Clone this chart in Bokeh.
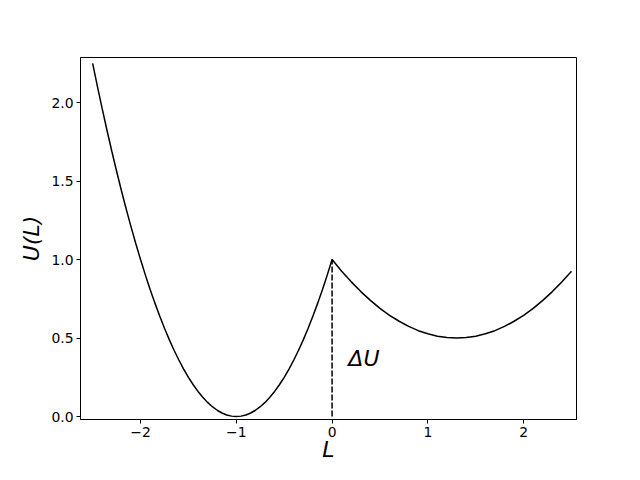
from bokeh.plotting import figure
from bokeh.models import FixedTicker, Label, Range1d
from bokeh.embed import file_html
from bokeh.resources import INLINE

# ---- data ----
L_left = [-2.50, -2.45, -2.40, -2.35, -2.30, -2.25, -2.20, -2.15, -2.10, -2.05,
          -2.00, -1.95, -1.90, -1.85, -1.80, -1.75, -1.70, -1.65, -1.60, -1.55,
          -1.50, -1.45, -1.40, -1.35, -1.30, -1.25, -1.20, -1.15, -1.10, -1.05,
          -1.00, -0.95, -0.90, -0.85, -0.80, -0.75, -0.70, -0.65, -0.60, -0.55,
          -0.50, -0.45, -0.40, -0.35, -0.30, -0.25, -0.20, -0.15, -0.10, -0.05, 0.00]
U_left = [2.2500, 2.1025, 1.9600, 1.8225, 1.6900, 1.5625, 1.4400, 1.3225, 1.2100, 1.1025,
          1.0000, 0.9025, 0.8100, 0.7225, 0.6400, 0.5625, 0.4900, 0.4225, 0.3600, 0.3025,
          0.2500, 0.2025, 0.1600, 0.1225, 0.0900, 0.0625, 0.0400, 0.0225, 0.0100, 0.0025,
          0.0000, 0.0025, 0.0100, 0.0225, 0.0400, 0.0625, 0.0900, 0.1225, 0.1600, 0.2025,
          0.2500, 0.3025, 0.3600, 0.4225, 0.4900, 0.5625, 0.6400, 0.7225, 0.8100, 0.9025, 1.0000]

L_right = [0.0, 0.1, 0.2, 0.3, 0.4, 0.5, 0.6, 0.7, 0.8, 0.9, 1.0, 1.1, 1.2, 1.3,
           1.4, 1.5, 1.6, 1.7, 1.8, 1.9, 2.0, 2.1, 2.2, 2.3, 2.4, 2.5]
U_right = [1.000, 0.926, 0.858, 0.796, 0.740, 0.689, 0.645, 0.607, 0.574, 0.547,
           0.527, 0.512, 0.503, 0.500, 0.503, 0.512, 0.527, 0.547, 0.574, 0.607,
           0.645, 0.689, 0.740, 0.796, 0.858, 0.926]

barrier_L = [0.0, 0.0]
barrier_U = [0.0, 1.0]

x_ticks = [-2, -1, 0, 1, 2]
x_tick_labels = ["\u22122", "\u22121", "0", "1", "2"]
y_ticks = [0.0, 0.5, 1.0, 1.5, 2.0]
y_tick_labels = ["0.0", "0.5", "1.0", "1.5", "2.0"]

annot_text = "\u0394U"
annot_L = 0.17
annot_U = 0.37

FONT = "DejaVu Sans"

p = figure(width=624, height=464, output_backend="svg", toolbar_location=None,
           x_range=Range1d(-2.627, 2.552), y_range=Range1d(-0.019, 2.2875),
           min_border_left=80, min_border_right=48, min_border_top=57, min_border_bottom=40)

p.line(L_left + L_right[1:], U_left + U_right[1:], line_color="black", line_width=1.5)
p.line(barrier_L, barrier_U, line_color="black", line_width=1.5, line_dash="6 2")

p.add_layout(Label(x=annot_L, y=annot_U, text=annot_text, text_font=FONT,
                   text_font_size="22px", text_font_style="italic",
                   text_baseline="alphabetic", text_color="black"))

p.xgrid.visible = False
p.ygrid.visible = False
p.outline_line_color = "black"
p.outline_line_width = 1
p.background_fill_color = "white"
p.border_fill_color = "white"

p.xaxis.ticker = FixedTicker(ticks=x_ticks)
p.yaxis.ticker = FixedTicker(ticks=y_ticks)
p.xaxis.major_label_overrides = {t: s for t, s in zip(x_ticks, x_tick_labels)}
p.yaxis.major_label_overrides = {t: s for t, s in zip(y_ticks, y_tick_labels)}

for ax in (p.xaxis, p.yaxis):
    ax.axis_line_color = "black"
    ax.major_tick_in = 0
    ax.major_tick_out = 4
    ax.major_tick_line_color = "black"
    ax.minor_tick_line_color = None
    ax.major_label_text_font = FONT
    ax.major_label_text_font_size = "13.9px"
    ax.major_label_text_color = "black"
    ax.major_label_standoff = 3
    ax.axis_label_text_font = FONT
    ax.axis_label_text_font_size = "22px"
    ax.axis_label_text_font_style = "italic"
    ax.axis_label_text_color = "black"

p.xaxis.axis_label = "L"
p.yaxis.axis_label = "U(L)"
p.xaxis.axis_label_standoff = -3
p.yaxis.axis_label_standoff = 4

open("out.html", "w").write(file_html(p, INLINE))
